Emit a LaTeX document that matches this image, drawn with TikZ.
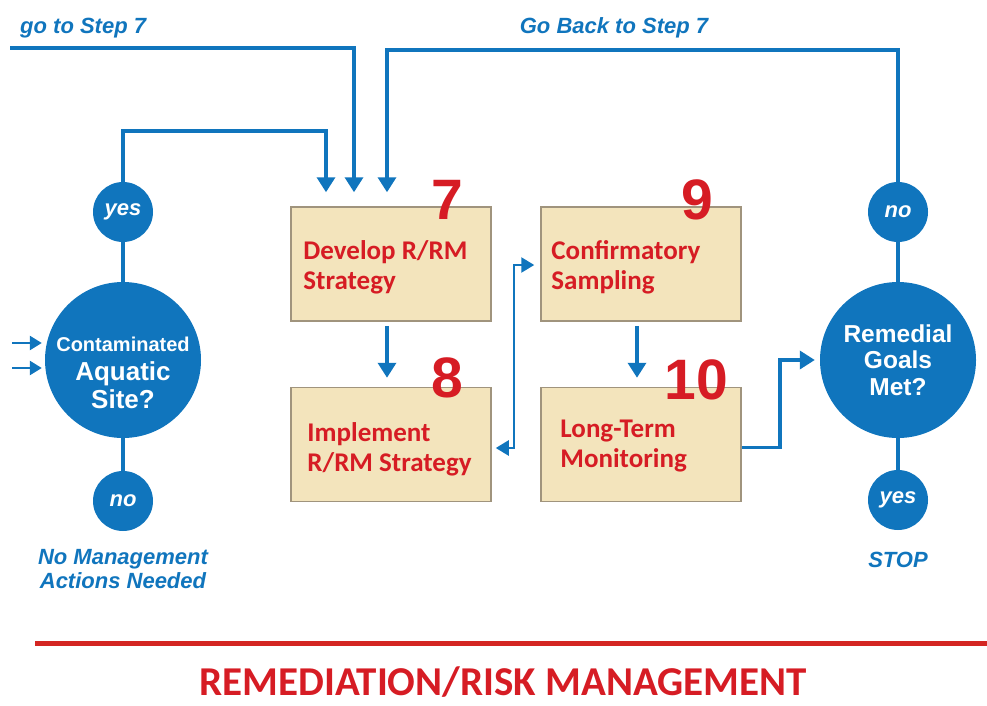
\documentclass[tikz,border=0pt]{standalone}
\usepackage{fontspec}
\setmainfont{Carlito}
\newfontfamily\arialfont{Liberation Sans}
\usetikzlibrary{arrows.meta,positioning}

\definecolor{flowblue}{RGB}{16,117,189}
\definecolor{stepfill}{RGB}{243,228,188}
\definecolor{stepline}{RGB}{160,148,125}
\definecolor{stepred}{RGB}{214,28,36}
\definecolor{rulered}{RGB}{212,38,34}

\tikzset{
  decision/.style={circle, fill=flowblue, inner sep=0pt, minimum size=156pt},
  decisiontext/.style={text=white, align=center, inner sep=0pt},
  answer/.style={circle, fill=flowblue, inner sep=0pt, minimum size=60pt, text=white,
    font=\arialfont\bfseries\itshape\fontsize{22}{24}\selectfont},
  stepbox/.style={draw=stepline, line width=1.5pt, fill=stepfill, minimum width=200pt,
    minimum height=114pt},
  steptext/.style={anchor=west, align=left, inner sep=0pt, text=stepred,
    font=\bfseries\fontsize{27}{30}\selectfont},
  stepnum/.style={text=stepred, inner sep=0pt, anchor=base,
    font=\arialfont\bfseries\fontsize{57}{57}\selectfont},
  note/.style={text=flowblue, align=center, inner sep=0pt,
    font=\arialfont\bfseries\itshape\fontsize{22}{24}\selectfont},
  flow/.style={draw=flowblue, line width=3.5pt, -{Triangle[width=18pt,length=15pt]}},
  entry/.style={draw=flowblue, line width=2.5pt, -{Triangle[width=14pt,length=12pt]}},
  feed/.style={draw=flowblue, line width=2.5pt,
    {Triangle[width=15pt,length=13pt]}-{Triangle[width=15pt,length=13pt]}},
  link/.style={draw=flowblue, line width=3.5pt},
}

\begin{document}
\begin{tikzpicture}[x=1pt,y=-1pt]
  \useasboundingbox (0,0) rectangle (987,706);

  \node[decision] (site) at (123,360) {};
  \node[decisiontext, font=\arialfont\bfseries\fontsize{26}{28.5}\selectfont] (sitetext) at ([yshift=-13pt]site.center)
    {\fontsize{20}{26}\selectfont Contaminated\\\fontsize{26}{28.5}\selectfont Aquatic\\\fontsize{26}{28.5}\selectfont Site?};
  \node[answer] (yes1) at (123,212) {yes};
  \node[answer] (no1) at (123,501) {no};
  \node[note] (nolabel) at (123,569) {No Management\\Actions Needed};

  \node[stepbox] (box7) at (391,264) {};
  \node[stepbox] (box8) at (391,444.5) {};
  \node[stepbox] (box9) at (641,264) {};
  \node[stepbox] (box10) at (641,444.5) {};
  \node[steptext] (text7) at ([xshift=13pt,yshift=-3pt]box7.west) {Develop R/RM\\Strategy};
  \node[steptext] (text8) at ([xshift=17pt,yshift=-5pt]box8.west) {Implement\\R/RM Strategy};
  \node[steptext] (text9) at ([xshift=11pt,yshift=-3pt]box9.west) {Confirmatory\\Sampling};
  \node[steptext] (text10) at ([xshift=20pt,yshift=-2pt]box10.west) {Long-Term\\Monitoring};
  \node[stepnum] (num7) at (447,219) {7};
  \node[stepnum] (num8) at (447,397) {8};
  \node[stepnum] (num9) at (697,219) {9};
  \node[stepnum] (num10) at (696,399) {10};

  \node[decision] (goals) at (898,360) {};
  \node[decisiontext, font=\arialfont\bfseries\fontsize{24.5}{26.5}\selectfont] (goalstext) at (goals.center)
    {Remedial\\Goals\\Met?};
  \node[answer] (no2) at (898,212) {no};
  \node[answer] (yes2) at (898,500) {yes};
  \node[note, anchor=base] (stoplabel) at (898,567) {STOP};

  \node[note, anchor=base west] (elselabel) at (20,34) {go to Step 7};
  \node[note, anchor=base] (backlabel) at (614,34) {Go Back to Step 7};

  \coordinate (elsein) at (10,48);
  \coordinate (yestop) at (123,131);
  \coordinate (backtop) at (898,50);
  \coordinate (in7a) at ([shift={(-65,-14)}]box7.north);
  \coordinate (in7b) at ([shift={(-37,-14)}]box7.north);
  \coordinate (in7c) at ([shift={(-4,-14)}]box7.north);
  \coordinate (enter1) at (12,343);
  \coordinate (enter2) at (12,368);

  \draw[flow] (elsein) -| (in7b);
  \draw[flow] (yes1) -- (yestop) -| (in7a);
  \draw[flow] (no2) -- (backtop) -| (in7c);

  \draw[entry, shorten >=3pt] (enter1) -- (enter1 -| site.west);
  \draw[entry, shorten >=3pt] (enter2) -- (enter2 -| site.west);

  \draw[link] (yes1) -- (site);
  \draw[link] (site) -- (no1);
  \draw[link] (no2) -- (goals);
  \draw[link] (goals) -- (yes2);

  \draw[flow, shorten <=4pt, shorten >=9pt] ([xshift=-4pt]box7.south) -- ([xshift=-4pt]box8.north);
  \draw[flow, shorten <=4pt, shorten >=9pt] ([xshift=-4pt]box9.south) -- ([xshift=-4pt]box10.north);
  \draw[feed, shorten <=4pt, shorten >=6pt] ([yshift=-3.5pt]box8.east) -- ++(22,0) |- ([yshift=-1pt]box9.west);
  \draw[flow, shorten >=5pt] ([yshift=-3pt]box10.east) -- ++(38,0) |- (goals);

  \draw[rulered, line width=5pt] (35,643) -- (987,643);
  \node[text=stepred, inner sep=0pt, anchor=base, font=\bfseries\fontsize{41}{41}\selectfont]
    (heading) at (503,695) {REMEDIATION/RISK MANAGEMENT};
\end{tikzpicture}
\end{document}
